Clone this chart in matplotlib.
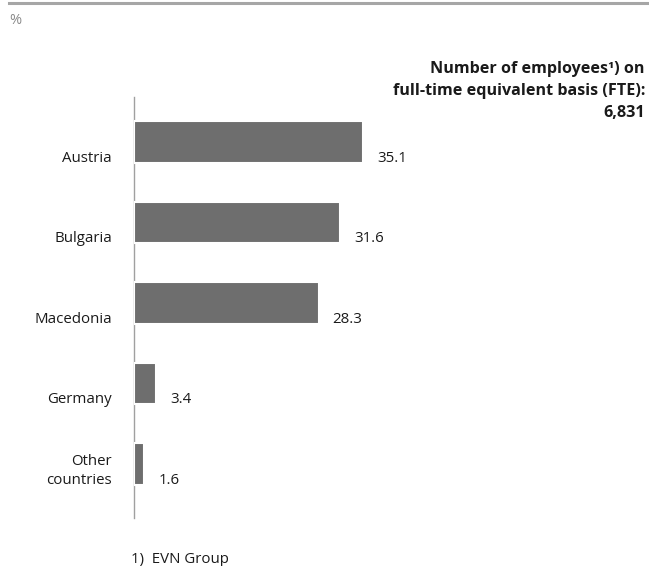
import matplotlib
matplotlib.use("Agg")
import matplotlib.pyplot as plt
from matplotlib.lines import Line2D
import matplotlib.transforms as mtransforms

plt.rcParams['font.family'] = ['Open Sans', 'DejaVu Sans']

countries = ["Austria", "Bulgaria", "Macedonia", "Germany", "Other\ncountries"]
shares = [35.1, 31.6, 28.3, 3.4, 1.6]
value_labels = ["35.1", "31.6", "28.3", "3.4", "1.6"]

W, H = 649, 566
fig = plt.figure(figsize=(W / 100, H / 100), dpi=100)

# axes placed in pixel terms: baseline at x=134, spine from y=97 to y=518
ax = fig.add_axes([134 / W, 1 - 518 / H, 6.52 * 60 / W, (518 - 97) / H])
pos = list(range(len(countries)))
bar_h = 0.51
ax.barh(pos, shares, height=bar_h, color="#6e6e6e", edgecolor="white",
        linewidth=1.5, zorder=3)
ax.set_xlim(0, 60)
ax.set_ylim(4 + 54 / 80.5, -45 / 80.5)

for s in ["top", "right", "bottom"]:
    ax.spines[s].set_visible(False)
ax.spines["left"].set_color("#a0a0a0")
ax.spines["left"].set_linewidth(1.0)
ax.set_xticks([])
ax.set_yticks([])

txt = "#1a1a1a"
fs = 10.8
for p, v, lab, name in zip(pos, shares, value_labels, countries):
    base = p + bar_h / 2
    off = mtransforms.offset_copy(ax.transData, fig=fig, x=14, y=1, units="dots")
    ax.text(v, base, lab, transform=off, ha="left", va="baseline",
            fontsize=fs, color=txt)
    off2 = mtransforms.offset_copy(ax.transData, fig=fig, x=-22, y=1, units="dots")
    ax.text(0, base, name, transform=off2, ha="right", va="baseline",
            fontsize=fs, color=txt, linespacing=1.3, multialignment="right")

# header rule and unit
fig.add_artist(Line2D([9 / W, 1], [1 - 3 / H, 1 - 3 / H], color="#a6a6a6",
                      linewidth=2.2))
fig.text(9 / W, 1 - 24 / H, "%", fontsize=10.5, color="#8a8a8a", va="baseline")

# headline at right
title = ["Number of employees¹) on", "full-time equivalent basis (FTE):", "6,831"]
for i, line in enumerate(title):
    fig.text(645 / W, 1 - (73 + 22 * i) / H, line, ha="right", va="baseline",
             fontsize=11.6, fontweight="bold", color=txt)

fig.text(131 / W, 1 - 563 / H, "1)  EVN Group", fontsize=fs, color=txt,
         va="baseline")

fig.savefig("out.png", dpi=100)
